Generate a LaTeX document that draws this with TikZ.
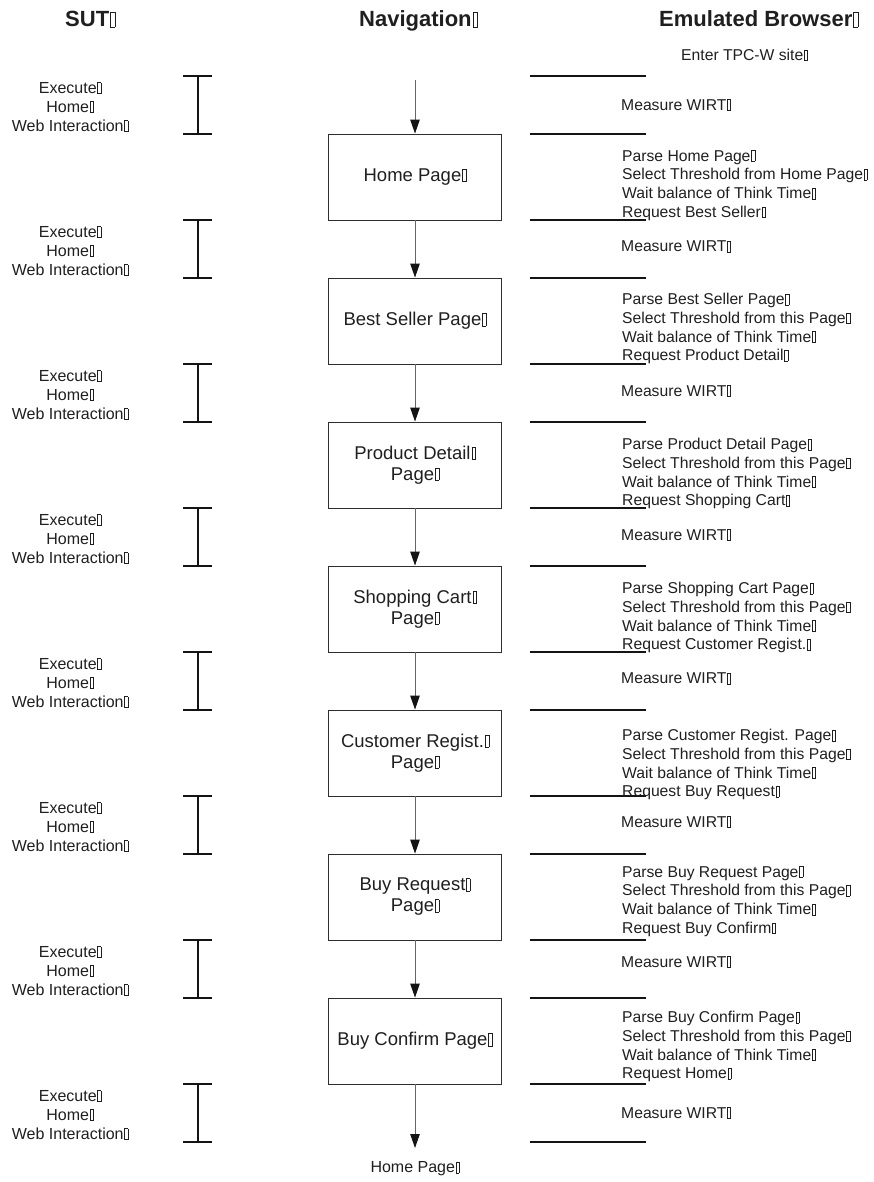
\documentclass[tikz,border=0pt]{standalone}
\usepackage{fontspec}
\setmainfont{Liberation Sans}
\usetikzlibrary{arrows.meta}
% small empty frame that follows every label (end-of-line mark)
\newcommand{\crmark}{\kern0.05em{\setlength{\fboxsep}{0pt}\setlength{\fboxrule}{0.4pt}\fbox{\rule{0pt}{0.66em}\kern0.18em}}}
\newcommand{\headfont}{\fontsize{22}{26}\selectfont\bfseries}
\newcommand{\sutfont}{\fontsize{16}{19}\selectfont}
\newcommand{\ebfont}{\fontsize{15.7}{18.8}\selectfont}
\newcommand{\pagefont}{\fontsize{18.5}{21}\selectfont}
\begin{document}
\begin{tikzpicture}[x=1pt,y=-1pt,
  head/.style={anchor=base west,inner sep=0pt,font=\headfont,text=black!88},
  pagebox/.style={draw=black!82,line width=0.9pt,minimum width=173pt,minimum height=86pt,
    align=center,inner sep=0pt,font=\pagefont,text=black!88},
  flow/.style={draw=black!60,line width=1pt,-{Triangle[length=14pt,width=9.5pt,color=black!92]}},
  sep/.style={line width=1.4pt,draw=black!92},
  ibar/.style={line width=1.4pt,draw=black!92},
  sut/.style={align=center,inner sep=0pt,font=\sutfont,text=black!88},
  wirt/.style={anchor=west,inner sep=0pt,font=\ebfont,text=black!88},
  ebtext/.style={anchor=north west,align=left,inner sep=0pt,font=\ebfont,text=black!88}]
\useasboundingbox (0,0) rectangle (874,1182);

% column headings
\node[head] (hsut) at (65,27) {SUT\crmark};
\node[head] (hnav) at (359,27) {Navigation\crmark};
\node[head] (heb) at (659,27) {Emulated Browser\crmark};
\node[anchor=west,inner sep=0pt,font=\ebfont,text=black!88] (enter) at (681,55) {Enter TPC-W site\crmark};

% navigation pages
\node[pagebox] (p1) at (415,177) {Home Page\crmark};
\node[pagebox] (p2) at (415,321) {Best Seller Page\crmark};
\node[pagebox] (p3) at (415,465) {Product Detail\crmark\\Page\crmark};
\node[pagebox] (p4) at (415,609) {Shopping Cart\crmark\\Page\crmark};
\node[pagebox] (p5) at (415,753) {Customer Regist.\crmark\\Page\crmark};
\node[pagebox] (p6) at (415,897) {Buy Request\crmark\\Page\crmark};
\node[pagebox] (p7) at (415,1041) {Buy Confirm Page\crmark};
\node[anchor=center,inner sep=0pt,font=\sutfont,text=black!88] (home) at (415,1169) {Home Page\crmark};

\coordinate (entry) at (415,80);
\coordinate (exit) at (415,1148);
\draw[flow] (entry) -- (p1.north);
\draw[flow] (p1.south) -- (p2.north);
\draw[flow] (p2.south) -- (p3.north);
\draw[flow] (p3.south) -- (p4.north);
\draw[flow] (p4.south) -- (p5.north);
\draw[flow] (p5.south) -- (p6.north);
\draw[flow] (p6.south) -- (p7.north);
\draw[flow] (p7.south) -- (exit);

% emulated browser separators
\foreach \y in {76,134,220,278,364,422,508,566,652,710,796,854,940,998,1084,1142}
  \draw[sep] (530,\y) -- (646,\y);

% SUT interaction bars and labels
\foreach \a/\b/\n in {76/134/1,220/278/2,364/422/3,508/566/4,652/710/5,796/854/6,940/998/7,1084/1142/8}{
  \draw[ibar] (198,\a) -- (198,\b);
  \draw[ibar] (183,\a) -- (212,\a);
  \draw[ibar] (183,\b) -- (212,\b);
  \node[sut] (s\n) at (70,{(\a+\b)/2+2}) {Execute\crmark\\Home\crmark\\Web Interaction\crmark};
}

% WIRT measurements
\foreach \a/\b/\d/\n in {76/134/0/1,220/278/-2.5/2,364/422/-2/3,508/566/-2/4,652/710/-2.5/5,796/854/-3/6,940/998/-7/7,1084/1142/0/8}
  \node[wirt] (w\n) at (621,{(\a+\b)/2+\d}) {Measure WIRT\crmark};

% browser actions on each page
\node[ebtext] (b1) at (622,150) {Parse Home Page\crmark\\Select Threshold from Home Page\crmark\\Wait balance of Think Time\crmark\\Request Best Seller\crmark};
\node[ebtext] (b2) at (622,293) {Parse Best Seller Page\crmark\\Select Threshold from this Page\crmark\\Wait balance of Think Time\crmark\\Request Product Detail\crmark};
\node[ebtext] (b3) at (622,438) {Parse Product Detail Page\crmark\\Select Threshold from this Page\crmark\\Wait balance of Think Time\crmark\\Request Shopping Cart\crmark};
\node[ebtext] (b4) at (622,582) {Parse Shopping Cart Page\crmark\\Select Threshold from this Page\crmark\\Wait balance of Think Time\crmark\\Request Customer Regist.\crmark};
\node[ebtext] (b5) at (622,729) {Parse Customer Regist. Page\crmark\\Select Threshold from this Page\crmark\\Wait balance of Think Time\crmark\\Request Buy Request\crmark};
\node[ebtext] (b6) at (622,866) {Parse Buy Request Page\crmark\\Select Threshold from this Page\crmark\\Wait balance of Think Time\crmark\\Request Buy Confirm\crmark};
\node[ebtext] (b7) at (622,1011) {Parse Buy Confirm Page\crmark\\Select Threshold from this Page\crmark\\Wait balance of Think Time\crmark\\Request Home\crmark};
\end{tikzpicture}
\end{document}
